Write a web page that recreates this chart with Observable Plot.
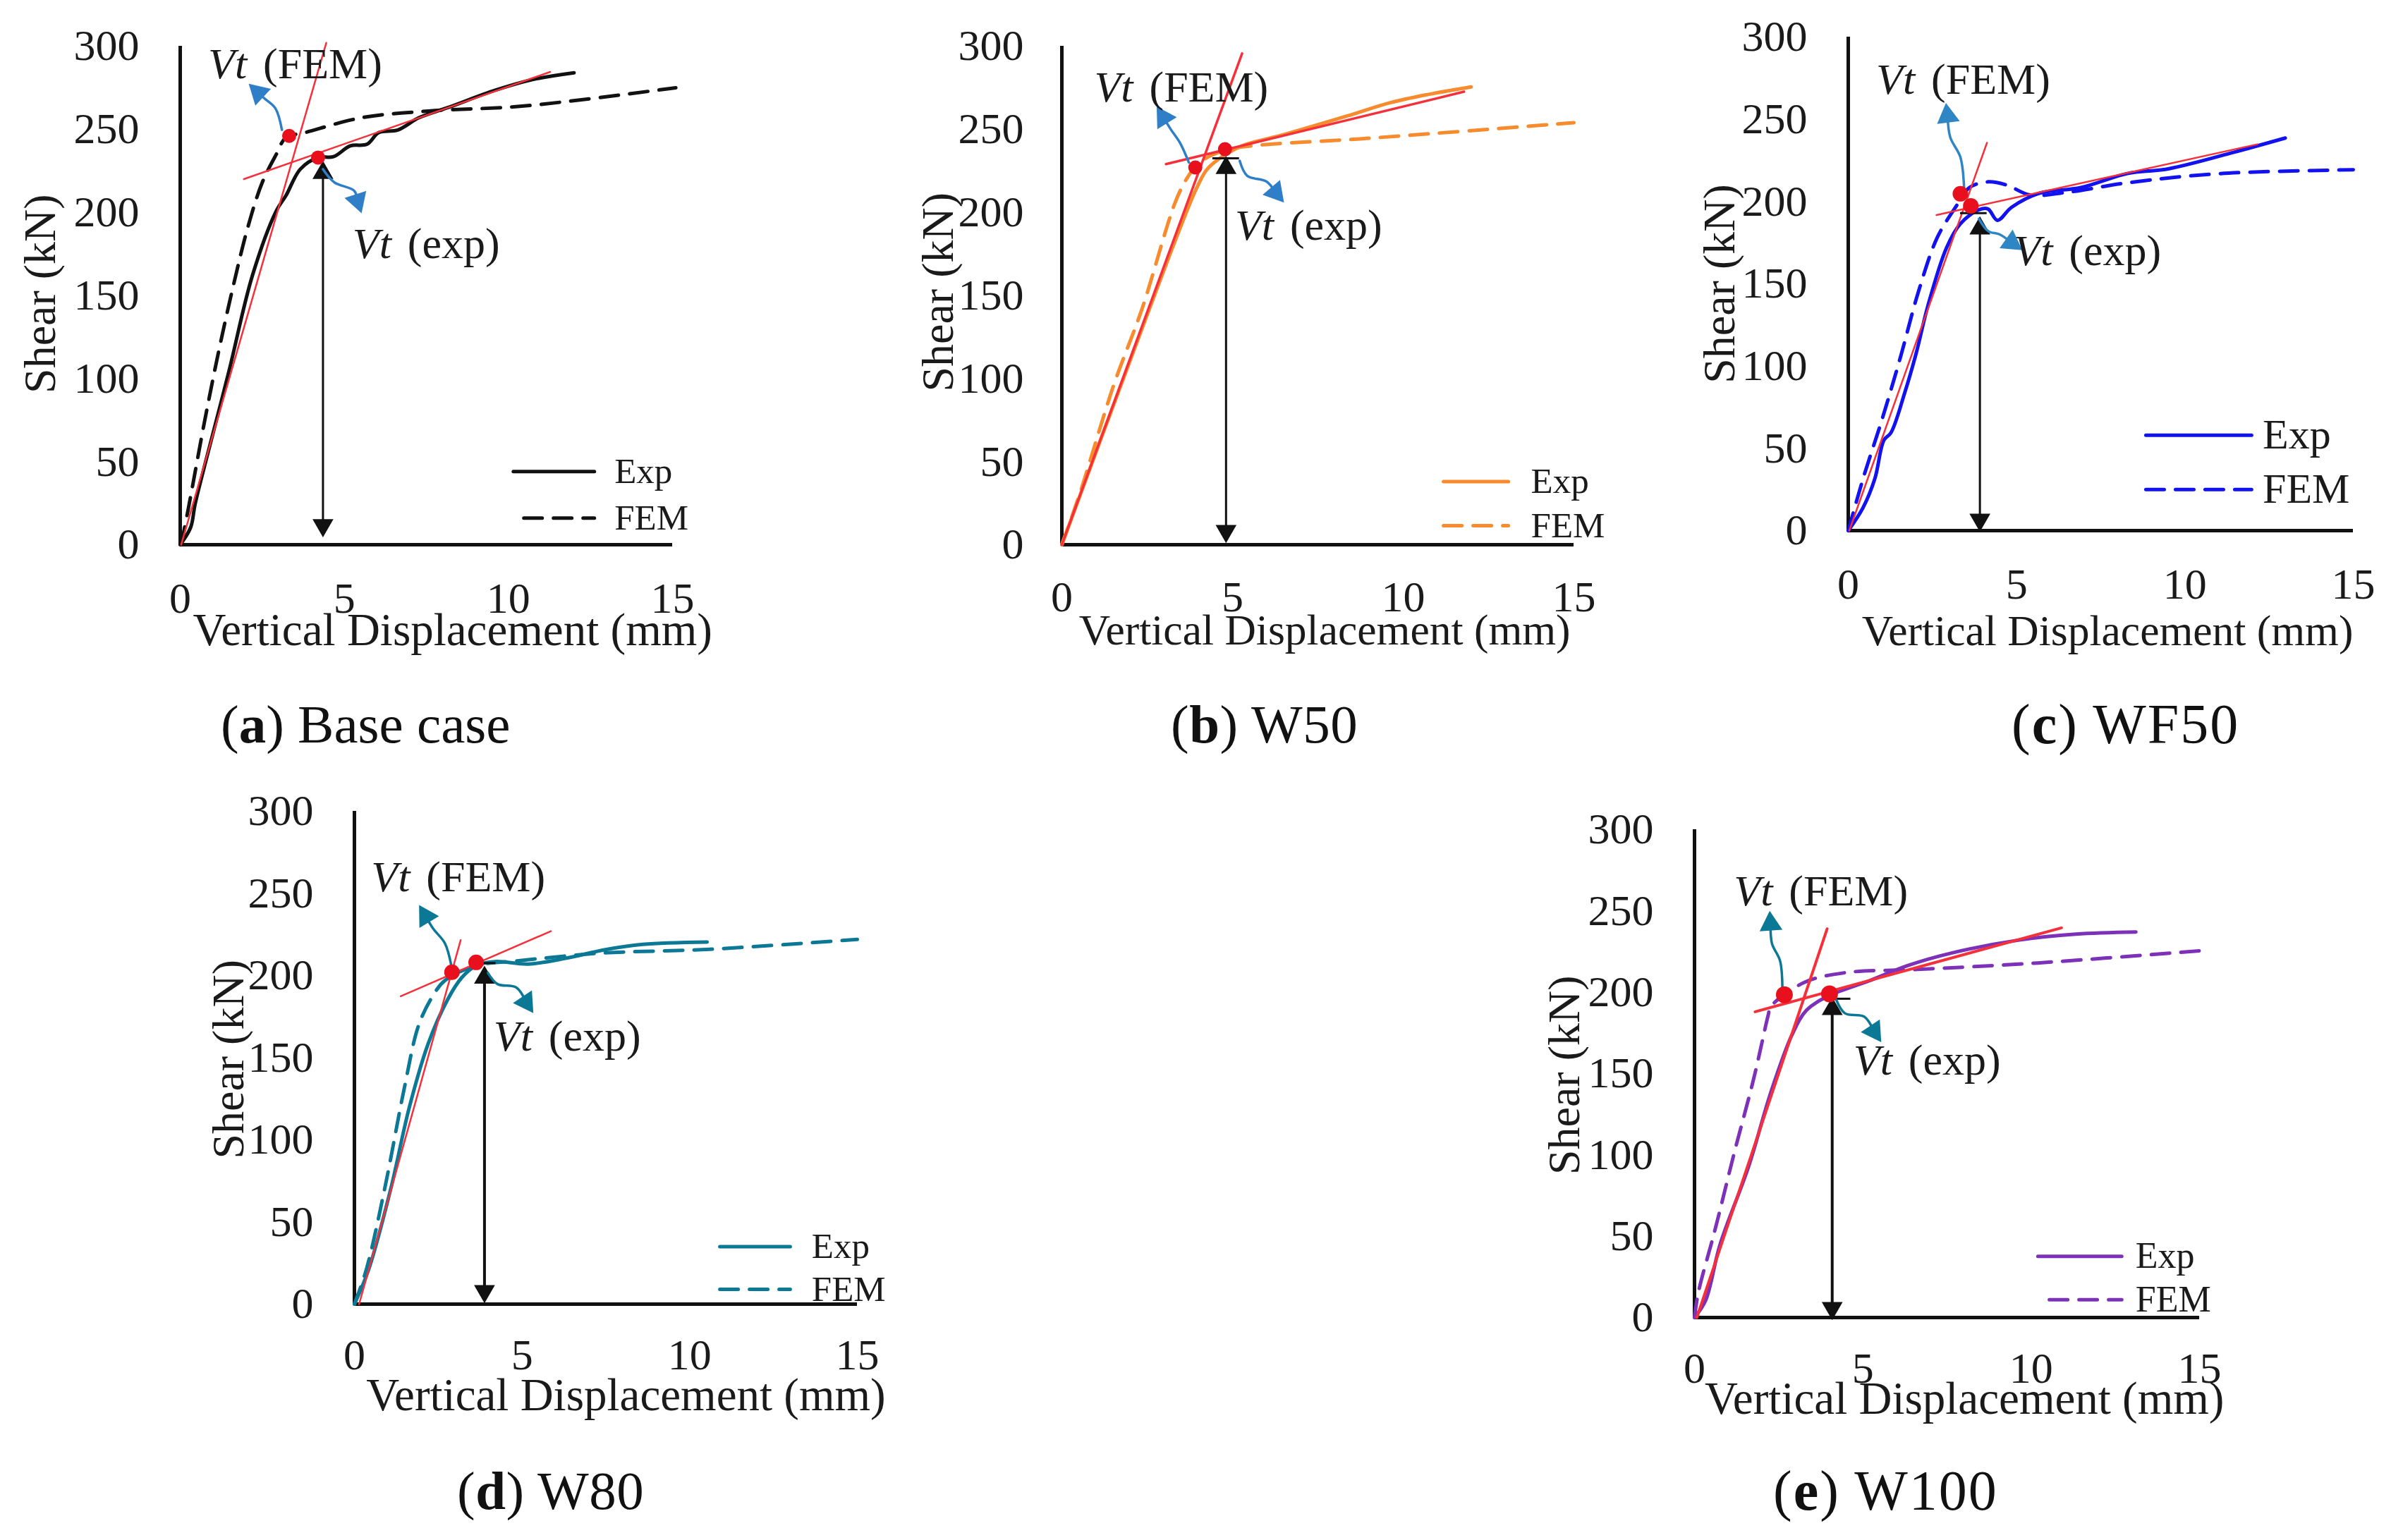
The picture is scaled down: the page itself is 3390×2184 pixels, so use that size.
<!DOCTYPE html>
<html><head><meta charset="utf-8">
<script src="https://cdn.jsdelivr.net/npm/d3@7"></script>
<script src="https://cdn.jsdelivr.net/npm/@observablehq/plot@0.6"></script>
<style>
html,body{margin:0;padding:0;background:#fff}
#page{position:relative;width:3390px;height:2184px;overflow:hidden;background:#fff}
#page>div.p{position:absolute}
#page svg{background:transparent;overflow:visible;max-width:none!important}
.cap{position:absolute;font-family:"Liberation Serif",serif;line-height:76px;color:#111;white-space:nowrap}
</style></head><body><div id="page"></div>
<script>
const xTicks=[0,5,10,15], yTicks=[0,50,100,150,200,250,300];
const xLabel="Vertical Displacement (mm)", yLabel="Shear (kN)";

const aExp=[[0,0],[.32,10.5],[.45,24],[.75,48],[1.48,104],[2.2,162],[2.93,201],[3.22,210],[3.66,226],[4.2,233],[4.67,233.5],[5.18,240],[5.69,241],[6.05,248],[6.63,249.6],[7.28,257],[8.15,263],[9.6,273.5],[10.76,280],[12,284]];
const aFem=[[.03,0],[.25,22],[.75,75],[1.19,118],[1.62,156],[2.06,191],[2.5,218],[2.93,235],[3.22,245],[3.8,248],[5.54,257],[7.57,261],[10.47,264],[15.1,275]];
const aTan1=[[.03,0],[4.45,302]], aTan2=[[1.94,220],[11.27,284.5]];
const aDots=[[3.32,246],[4.2,233]];
const aArrFem=[[3.1,249.6],[2.9,262.6],[2.57,268.5],[2.38,272]], aArrExp=[[4.35,226],[4.7,218],[5.3,213],[5.4,207]];

const bExp=[[0,0],[1.93,107],[3.89,212],[4.24,225.5],[4.59,232],[5.28,240],[6.54,247],[8.36,258],[9.62,266],[10.74,271],[11.99,275.5]];
const bFem=[[0,0],[.53,31],[1.51,95.5],[2.35,142],[3.33,206.5],[3.68,221],[4.03,230],[4.72,237],[5.56,240],[8.92,244.5],[15,254]];
const bTan1=[[0,0],[5.28,295.6]], bTan2=[[3.05,229],[11.78,272.6]];
const bDots=[[3.91,227],[4.78,238]];
const bArrFem=[[3.72,230],[3.47,241.5],[3.19,250],[2.98,257]], bArrExp=[[5.21,231],[5.43,222],[5.99,218.6],[6.26,212]];

const cExp=[[0,0],[.44,14],[.79,31.6],[1.06,55],[1.27,59.6],[1.68,84],[2.02,108],[2.37,137],[2.92,172],[3.33,186.5],[3.88,195],[4.15,195.5],[4.43,188.6],[4.85,196.5],[5.67,205],[6.91,208.5],[8.29,217],[9.53,220],[11.46,230],[12.98,238.6]];
const cFem=[[0,0],[.44,31.6],[.99,66.7],[1.54,104.7],[2.09,145.6],[2.64,178],[3.2,197],[3.6,208.5],[4.16,212],[4.71,210],[5.4,204],[6.5,205.6],[8.29,211.4],[11.05,217],[15,219.3]];
const cTan1=[[.03,0],[4.12,235.7]], cTan2=[[2.62,191.8],[12.15,234.8]];
const cDots=[[3.33,204.7],[3.64,197.4]];
const cArrFem=[[3.44,208.5],[3.33,227],[3.03,239],[2.95,252]], cArrExp=[[3.88,189.5],[4.16,182],[4.5,180],[4.85,175]];

const dExp=[[0,0],[.43,21.4],[1.07,69],[1.64,120],[2.2,158.5],[2.77,185],[3.2,198.7],[3.63,206],[4.19,208.5],[5.19,207],[6.33,210.6],[7.46,215.7],[8.6,219],[10.52,220.4]];
const dFem=[[0,0],[.36,21.4],[.92,72],[1.49,131.7],[1.92,170],[2.35,188],[2.7,197],[3.63,206],[4.9,209],[7.32,213.6],[10.6,216],[15,222]];
const dTan1=[[.14,0],[3.17,221.6]], dTan2=[[1.38,187.4],[5.86,227]];
const dDots=[[2.91,202],[3.63,208]];
const dArrFem=[[2.89,206],[2.7,219.6],[2.35,228.5],[2.13,236]], dArrExp=[[3.98,201.7],[4.27,194.8],[4.83,192.7],[5.12,183.8]];

const eExp=[[0,0],[.33,10.5],[.76,45],[1.61,93],[2.26,138],[2.9,174],[3.33,189],[4.01,198],[5.19,207],[6.33,216.4],[7.61,224],[9.61,232],[11.33,235.7],[13.11,237]];
const eFem=[[0,0],[.11,15],[.61,54],[1.19,102],[1.76,147],[2.19,186],[2.26,191],[3.26,206],[4.47,212],[6.61,214],[10.19,218],[15,225.5]];
const eTan1=[[.07,0],[3.94,239]], eTan2=[[1.8,188],[10.9,239.6]];
const eDots=[[2.67,198.4],[4.01,199]];
const eArrFem=[[2.61,203],[2.54,219.4],[2.3,230],[2.26,242]], eArrExp=[[4.21,195.4],[4.47,187],[5.04,185],[5.33,176]];

const colors={a:"#111111",b:"#f78b2d",c:"#1212f0",d:"#0b7896",e:"#7d30b8"};
const arrowColors={a:"#2f7fc8",b:"#2f7fc8",c:"#2f86c4",d:"#0b7896",e:"#0b7896"};

const panels=[
 {id:"a",exp:aExp,fem:aFem,t1:aTan1,t2:aTan2,dots:aDots,af:aArrFem,ae:aArrExp,left:255,right:953,top:65,bottom:772,
  vx:4.35,vy:[7.5,228],cap:null,vf:[.85,289],ve:[5.25,181],ly:[44,16],lx:[10.15,12.62],lx2:10.47,ltx:13.23,lf:51,vw:3,tx:8.3,yl:-198,yc:151,
  tp:52,yp:58,dy:122,xf:65,dr:10,tw:2.5,capText:"Base case",capB:"a",capX:313,capY:989,capF:77,capLs:0},
 {id:"b",exp:bExp,fem:bFem,t1:bTan1,t2:bTan2,dots:bDots,af:bArrFem,ae:bArrExp,left:1505,right:2231,top:65,bottom:772,
  vx:4.81,vy:[4,231],cap:[4.42,5.2,232.5],vf:[.95,275],ve:[5.07,192],ly:[38,11.5],lx:[11.18,13.08],lx2:11.18,ltx:13.74,lf:51,vw:3,tx:7.7,yl:-175,yc:152,
  tp:50,yp:54,dy:122,xf:61.5,dr:10,tw:3.5,capText:"W50",capB:"b",capX:1660,capY:989,capF:77,capLs:.5},
 {id:"c",exp:cExp,fem:cFem,t1:cTan1,t2:cTan2,dots:cDots,af:cArrFem,ae:cArrExp,left:2620,right:3336,top:52,bottom:752,
  vx:3.91,vy:[2.3,188],cap:[3.33,4.12,193],vf:[.83,274],ve:[4.92,170],ly:[58,25],lx:[8.84,11.98],lx2:8.84,ltx:12.31,lf:60,vw:3,tx:7.7,yl:-182,yc:150,
  tp:52,yp:58,dy:143,xf:61.5,dr:11,tw:2.5,capText:"WF50",capB:"c",capX:2852,capY:989,capF:80,capLs:2},
 {id:"d",exp:dExp,fem:dFem,t1:dTan1,t2:dTan2,dots:dDots,af:dArrFem,ae:dArrExp,left:502,right:1215,top:1150,bottom:1849,
  vx:3.88,vy:[3.6,203],cap:[3.63,4.22,207.6],vf:[.5,260],ve:[4.15,163],ly:[35,9],lx:[10.9,13.0],lx2:10.9,ltx:13.64,lf:51,vw:4,tx:8.1,yl:-178,yc:149,
  tp:48,yp:58,dy:130,xf:65,dr:11,tw:2.5,capText:"W80",capB:"d",capX:648,capY:2076,capF:77,capLs:.5},
 {id:"e",exp:eExp,fem:eFem,t1:eTan1,t2:eTan2,dots:eDots,af:eArrFem,ae:eArrExp,left:2402,right:3118,top:1176,bottom:1868,
  vx:4.09,vy:[1.5,194],cap:[4.2,4.64,196],vf:[1.17,262],ve:[4.72,158],ly:[37.6,11],lx:[10.2,12.69],lx2:10.54,ltx:13.1,lf:52,vw:4,tx:8.02,yl:-184,yc:149,
  tp:48,yp:58,dy:116,xf:65,dr:12,tw:4,capText:"W100",capB:"e",capX:2514,capY:2076,capF:80,capLs:2}
];

const page=document.getElementById("page");
const ml=300,mr=260,mt=60,mb=190;
const X=d=>d[0],Y=d=>d[1];

for(const c of panels){
  const w=c.right-c.left,h=c.bottom-c.top, col=colors[c.id], ac=arrowColors[c.id];
  const sx=w/15, sy=h/300;
  const ang=pts=>{const [p,q]=pts.slice(-2);return Math.atan2((q[0]-p[0])*sx,(q[1]-p[1])*sy)*180/Math.PI;};
  const serif={fontFamily:"Liberation Serif"};
  const vlabel=(pos,word)=>[
    Plot.text([pos],{x:X,y:Y,text:()=>"Vt",textAnchor:"start",fontSize:62,fontStyle:"italic",fill:"#1a1a1a",...serif}),
    Plot.text([pos],{x:X,y:Y,text:()=>word,textAnchor:"start",dx:78,fontSize:62,fill:"#1a1a1a",...serif})
  ];
  const chart=Plot.plot({
    width:w+ml+mr,height:h+mt+mb,marginLeft:ml,marginRight:mr,marginTop:mt,marginBottom:mb,
    x:{domain:[0,15],range:[ml,ml+w]},y:{domain:[0,300],range:[mt+h,mt]},
    style:{background:"transparent",fontFamily:"Liberation Serif",color:"#1a1a1a"},
    marks:[
      Plot.axisX(xTicks,{tickSize:0,tickPadding:c.tp,fontSize:62,label:null,tickFormat:d=>String(d),...serif}),
      Plot.axisY(yTicks,{tickSize:0,tickPadding:c.yp,fontSize:62,label:null,tickFormat:d=>String(d),...serif}),
      Plot.ruleX([0],{stroke:"#111",strokeWidth:5}),
      Plot.ruleY([0],{stroke:"#111",strokeWidth:5}),
      Plot.text([xLabel],{x:c.tx,y:0,dy:c.dy,fontSize:c.xf,fill:"#1a1a1a",...serif}),
      Plot.text([yLabel],{x:0,y:c.yc,dx:c.yl,rotate:-90,fontSize:64,fill:"#1a1a1a",...serif}),
      Plot.line(c.fem,{x:X,y:Y,stroke:col,strokeWidth:5,strokeDasharray:"26,16",curve:"catmull-rom"}),
      Plot.line(c.exp,{x:X,y:Y,stroke:col,strokeWidth:5,curve:"catmull-rom"}),
      Plot.line(c.t1,{x:X,y:Y,stroke:"#f5303a",strokeWidth:c.tw}),
      Plot.line(c.t2,{x:X,y:Y,stroke:"#f5303a",strokeWidth:c.tw}),
      Plot.ruleX([c.vx],{y1:c.vy[0],y2:c.vy[1],stroke:"#111",strokeWidth:c.vw}),
      Plot.dot([[c.vx,c.vy[0]]],{x:X,y:Y,symbol:"triangle",r:11,rotate:180,dy:-10,fill:"#111",stroke:"none"}),
      Plot.dot([[c.vx,c.vy[1]]],{x:X,y:Y,symbol:"triangle",r:11,rotate:0,dy:10,fill:"#111",stroke:"none"}),
      c.cap?Plot.ruleY([c.cap[2]],{x1:c.cap[0],x2:c.cap[1],stroke:"#111",strokeWidth:3}):null,
      Plot.line(c.af,{x:X,y:Y,stroke:ac,strokeWidth:3.5,curve:"catmull-rom"}),
      Plot.line(c.ae,{x:X,y:Y,stroke:ac,strokeWidth:3.5,curve:"catmull-rom"}),
      Plot.dot(c.af.slice(-1),{x:X,y:Y,symbol:"triangle",r:12,rotate:ang(c.af),fill:ac,stroke:"none"}),
      Plot.dot(c.ae.slice(-1),{x:X,y:Y,symbol:"triangle",r:12,rotate:ang(c.ae),fill:ac,stroke:"none"}),
      Plot.dot(c.dots,{x:X,y:Y,r:c.dr,fill:"#e8101c",stroke:"none"}),
      ...vlabel(c.vf,"(FEM)"),
      ...vlabel(c.ve,"(exp)"),
      Plot.line([[c.lx[0],c.ly[0]],[c.lx[1],c.ly[0]]],{x:X,y:Y,stroke:col,strokeWidth:5}),
      Plot.line([[c.lx2,c.ly[1]],[c.lx[1],c.ly[1]]],{x:X,y:Y,stroke:col,strokeWidth:5,strokeDasharray:"26,16"}),
      Plot.text([[c.ltx,c.ly[0]]],{x:X,y:Y,text:()=>"Exp",textAnchor:"start",fontSize:c.lf,fill:"#1a1a1a",...serif}),
      Plot.text([[c.ltx,c.ly[1]]],{x:X,y:Y,text:()=>"FEM",textAnchor:"start",fontSize:c.lf,fill:"#1a1a1a",...serif})
    ].filter(Boolean)
  });
  const div=document.createElement("div");
  div.className="p";
  div.style.left=(c.left-ml)+"px";
  div.style.top=(c.top-mt)+"px";
  div.style.width=(w+ml+mr)+"px";
  div.appendChild(chart);
  page.appendChild(div);
  const cap=document.createElement("div");
  cap.className="cap";
  cap.style.left=c.capX+"px";
  cap.style.top=c.capY+"px";
  cap.style.fontSize=c.capF+"px";
  cap.style.letterSpacing=c.capLs+"px";
  cap.innerHTML="(<b>"+c.capB+"</b>) "+c.capText;
  page.appendChild(cap);
}
</script></body></html>
